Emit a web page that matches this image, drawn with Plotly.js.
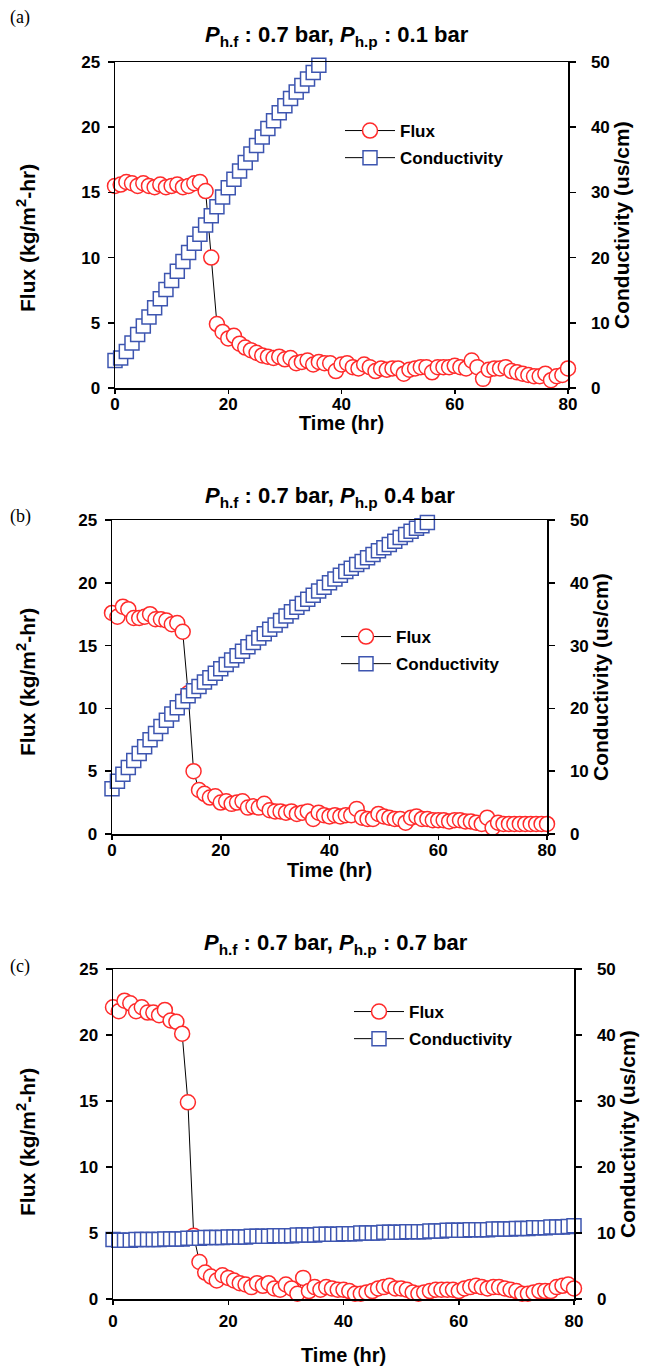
<!DOCTYPE html>
<html><head><meta charset="utf-8">
<script src="https://cdn.plot.ly/plotly-3.0.1.min.js"></script>
<style>html,body{margin:0;padding:0;background:#fff;} #chart{width:646px;height:1369px;}</style>
</head><body><div id="chart"></div>
<script>
// ---------------- DATA ----------------
const timeHr = [0,1,2,3,4,5,6,7,8,9,10,11,12,13,14,15,16,17,18,19,20,21,22,23,24,25,26,27,28,29,30,
  31,32,33,34,35,36,37,38,39,40,41,42,43,44,45,46,47,48,49,50,51,52,53,54,55,56,57,58,59,60,
  61,62,63,64,65,66,67,68,69,70,71,72,73,74,75,76,77,78,79,80];

const fluxA = [15.5,15.6,15.8,15.7,15.5,15.7,15.5,15.4,15.6,15.4,15.5,15.6,15.4,15.5,15.7,15.8,15.1,
  10.0,4.9,4.3,3.8,4.0,3.4,3.1,2.9,2.7,2.5,2.4,2.3,2.4,2.2,2.3,1.9,2.0,2.1,1.8,2.0,1.9,1.9,1.3,1.8,
  1.9,1.6,1.5,1.8,1.6,1.3,1.5,1.4,1.5,1.5,1.1,1.4,1.5,1.6,1.6,1.2,1.6,1.6,1.6,1.7,
  1.6,1.5,2.1,1.6,0.7,1.4,1.5,1.5,1.6,1.3,1.2,1.1,1.0,0.9,0.9,1.1,0.6,0.9,1.0,1.5];
const condA = [4.2,4.6,5.6,6.9,8.2,9.5,10.9,12.3,13.7,15.1,16.5,17.9,19.4,20.8,22.2,23.6,25.0,
  26.4,27.8,29.3,30.7,32.0,33.3,34.6,35.9,37.2,38.5,39.8,41.0,42.2,43.3,44.4,45.4,46.4,47.4,48.4,49.5];

const fluxB = [17.6,17.3,18.1,17.9,17.2,17.2,17.3,17.5,17.1,17.1,17.0,16.7,16.8,16.1,11.2,5.0,3.5,
  3.2,2.9,3.0,2.5,2.6,2.4,2.5,2.6,2.1,2.2,2.1,2.4,1.9,1.8,1.8,1.7,1.8,1.6,1.7,1.8,1.2,1.7,1.5,1.4,
  1.5,1.4,1.5,1.5,2.0,1.3,1.2,1.2,1.6,1.4,1.3,1.2,1.2,0.9,1.3,1.4,1.2,1.2,1.1,1.1,
  1.1,1.0,1.1,1.1,1.0,1.0,0.9,0.8,1.3,0.5,0.9,0.8,0.8,0.8,0.8,0.8,0.8,0.8,0.8,0.8];
const condB = [7.2,8.4,9.5,10.6,11.7,12.8,13.9,15.0,16.0,17.1,18.1,19.1,20.1,21.1,22.0,22.8,23.5,
  24.2,24.9,25.6,26.3,27.0,27.7,28.4,29.1,29.8,30.5,31.2,31.9,32.6,33.3,34.0,34.7,35.4,36.1,36.7,
  37.4,38.0,38.7,39.3,40.0,40.6,41.2,41.8,42.3,42.9,43.4,44.0,44.5,45.1,45.6,46.1,46.6,47.2,47.7,
  48.2,48.7,49.1,49.6];

const fluxC = [22.1,21.8,22.6,22.4,21.8,22.1,21.7,21.7,21.5,21.9,21.1,21.0,20.1,14.9,4.8,2.8,2.0,
  1.7,1.4,1.8,1.6,1.4,1.2,1.1,0.9,1.2,1.0,1.2,0.8,0.7,1.1,0.8,0.4,1.6,0.6,0.9,0.7,0.9,0.8,0.7,0.7,
  0.6,0.4,0.4,0.5,0.6,0.8,0.9,1.0,0.8,0.8,0.7,0.5,0.4,0.5,0.6,0.7,0.7,0.7,0.7,0.6,
  0.8,0.9,1.0,0.9,0.8,0.9,0.9,0.8,0.7,0.6,0.4,0.4,0.5,0.6,0.6,0.6,0.9,1.0,1.1,0.8];
const condC = [9.0,8.9,8.9,8.9,9.0,9.0,9.0,9.0,9.0,9.1,
  9.1,9.1,9.1,9.2,9.2,9.2,9.3,9.3,9.3,9.3,
  9.4,9.4,9.4,9.4,9.5,9.5,9.5,9.5,9.6,9.6,
  9.6,9.6,9.7,9.7,9.7,9.7,9.8,9.8,9.8,9.8,
  9.9,9.9,9.9,10.0,10.0,10.0,10.0,10.1,10.1,10.1,
  10.1,10.2,10.2,10.2,10.2,10.3,10.3,10.3,10.4,10.4,
  10.4,10.4,10.5,10.5,10.5,10.5,10.6,10.6,10.6,10.6,
  10.7,10.7,10.7,10.8,10.8,10.8,10.9,10.9,10.9,11.0,11.1];

const titles = [
  '<b><i>P</i><sub>h.f</sub> : 0.7 bar, <i>P</i><sub>h.p</sub> : 0.1 bar</b>',
  '<b><i>P</i><sub>h.f</sub> : 0.7 bar, <i>P</i><sub>h.p</sub> 0.4 bar</b>',
  '<b><i>P</i><sub>h.f</sub> : 0.7 bar, <i>P</i><sub>h.p</sub> : 0.7 bar</b>'
];
const panelLabels = ['(a)','(b)','(c)'];
const seriesNames = ['Flux','Conductivity'];
const yTitle = 'Flux (kg/m<sup>2</sup>-hr)';
const y2Title = 'Conductivity (us/cm)';
const xTitle = 'Time (hr)';

// ---------------- LAYOUT ----------------
const W = 646, H = 1369;
const fx = p => p / W;
const fy = p => 1 - p / H;
const SANS = 'Liberation Sans, Arial, sans-serif';
const NARROW = 'Liberation Sans Narrow, Arial Narrow, Liberation Sans, Arial, sans-serif';
const SERIF = 'Liberation Serif, Times New Roman, serif';
const RED = '#ff2a2a', BLUE = '#3d55b0';

const panels = [
  {l:115, r:568, t:62,  b:388,  flux:fluxA, cond:condA, title:[337,36],  lab:[20,17],  xt:423,  yt:238,  leg:[340,113]},
  {l:112, r:547, t:520, b:834,  flux:fluxB, cond:condB, title:[330,497], lab:[20,516], xt:870,  yt:682,  leg:[336,619]},
  {l:113, r:574, t:969, b:1299, flux:fluxC, cond:condC, title:[336,944], lab:[20,966], xt:1355, yt:1142, leg:[349,994]}
];

const axisBase = {
  showline:true, linecolor:'#000', linewidth:1.5, ticks:'outside', ticklen:6, tickwidth:1.5,
  tickcolor:'#000', showgrid:false, zeroline:false, automargin:false,
  tickfont:{family:SANS, size:17, color:'#000', weight:700}
};

const data = [];
const layout = {
  width:W, height:H, margin:{l:0,r:0,t:0,b:0}, paper_bgcolor:'#fff', plot_bgcolor:'rgba(0,0,0,0)',
  showlegend:true, annotations:[]
};

panels.forEach((p, i) => {
  const xa = i === 0 ? 'x' : 'x' + (i + 1);
  const ya = 'y' + (2 * i + 1 === 1 ? '' : 2 * i + 1);
  const yb = 'y' + (2 * i + 2);
  const xKey = i === 0 ? 'xaxis' : 'xaxis' + (i + 1);
  const yKey = 'yaxis' + (2 * i + 1 === 1 ? '' : 2 * i + 1);
  const y2Key = 'yaxis' + (2 * i + 2);
  const legKey = i === 0 ? 'legend' : 'legend' + (i + 1);

  layout[xKey] = Object.assign({}, axisBase, {
    domain:[fx(p.l), fx(p.r)], range:[0,80], tick0:0, dtick:20, anchor:ya, mirror:true, ticklen:4,
    ticklabelstandoff: i === 2 ? 2 : -4
  });
  layout[yKey] = Object.assign({}, axisBase, {
    domain:[fy(p.b), fy(p.t)], range:[0,25], tick0:0, dtick:5, anchor:xa, ticklabelstandoff:4
  });
  layout[y2Key] = Object.assign({}, axisBase, {
    domain:[fy(p.b), fy(p.t)], range:[0,50], tick0:0, dtick:10, anchor:xa, overlaying:ya, side:'right',
    ticklabelstandoff:12
  });
  layout[legKey] = {
    x:fx(p.leg[0]), y:fy(p.leg[1]), xanchor:'left', yanchor:'top', bgcolor:'rgba(0,0,0,0)',
    borderwidth:0, font:{family:SANS, size:17, color:'#000', weight:700}, itemwidth:50,
    tracegroupgap:2
  };

  data.push({
    x: timeHr.slice(0, p.flux.length), y: p.flux, xaxis:xa, yaxis:ya, name:seriesNames[0],
    mode:'lines+markers', line:{color:'#000', width:1}, cliponaxis:false, legend:legKey,
    legendgroup:'f'+i,
    marker:{symbol:'circle', size:15, color:'#fff', line:{color:RED, width:1.5}}
  });
  data.push({
    x: timeHr.slice(0, p.cond.length), y: p.cond, xaxis:xa, yaxis:yb, name:seriesNames[1],
    mode:'lines+markers', line:{color:'#000', width:1}, cliponaxis:false, legend:legKey,
    legendgroup:'c'+i,
    marker:{symbol:'square', size:14, color:'#fff', line:{color:BLUE, width:1.5}}
  });

  const cy = (p.t + p.b) / 2;
  layout.annotations.push(
    {xref:'paper', yref:'paper', x:fx(p.title[0]), y:fy(p.title[1]), xanchor:'center', yanchor:'middle',
     text:titles[i], showarrow:false, font:{family:NARROW, size:22, color:'#000'}},
    {xref:'paper', yref:'paper', x:fx(p.lab[0]), y:fy(p.lab[1]), xanchor:'center', yanchor:'middle',
     text:panelLabels[i], showarrow:false, font:{family:SERIF, size:18, color:'#000'}},
    {xref:'paper', yref:'paper', x:fx(26), y:fy(p.yt), xanchor:'center', yanchor:'middle', textangle:-90,
     text:'<b>' + yTitle + '</b>', showarrow:false, font:{family:SANS, size:21, color:'#000'}},
    {xref:'paper', yref:'paper', x:fx(p.r + 53), y:fy(cy), xanchor:'center', yanchor:'middle', textangle:-90,
     text:'<b>' + y2Title + '</b>', showarrow:false, font:{family:SANS, size:21, color:'#000'}},
    {xref:'paper', yref:'paper', x:fx((p.l + p.r) / 2), y:fy(p.xt), xanchor:'center', yanchor:'middle',
     text:'<b>' + xTitle + '</b>', showarrow:false, font:{family:SANS, size:20, color:'#000'}}
  );
});

Plotly.newPlot('chart', data, layout, {staticPlot:true, displayModeBar:false});
</script>
</body></html>
